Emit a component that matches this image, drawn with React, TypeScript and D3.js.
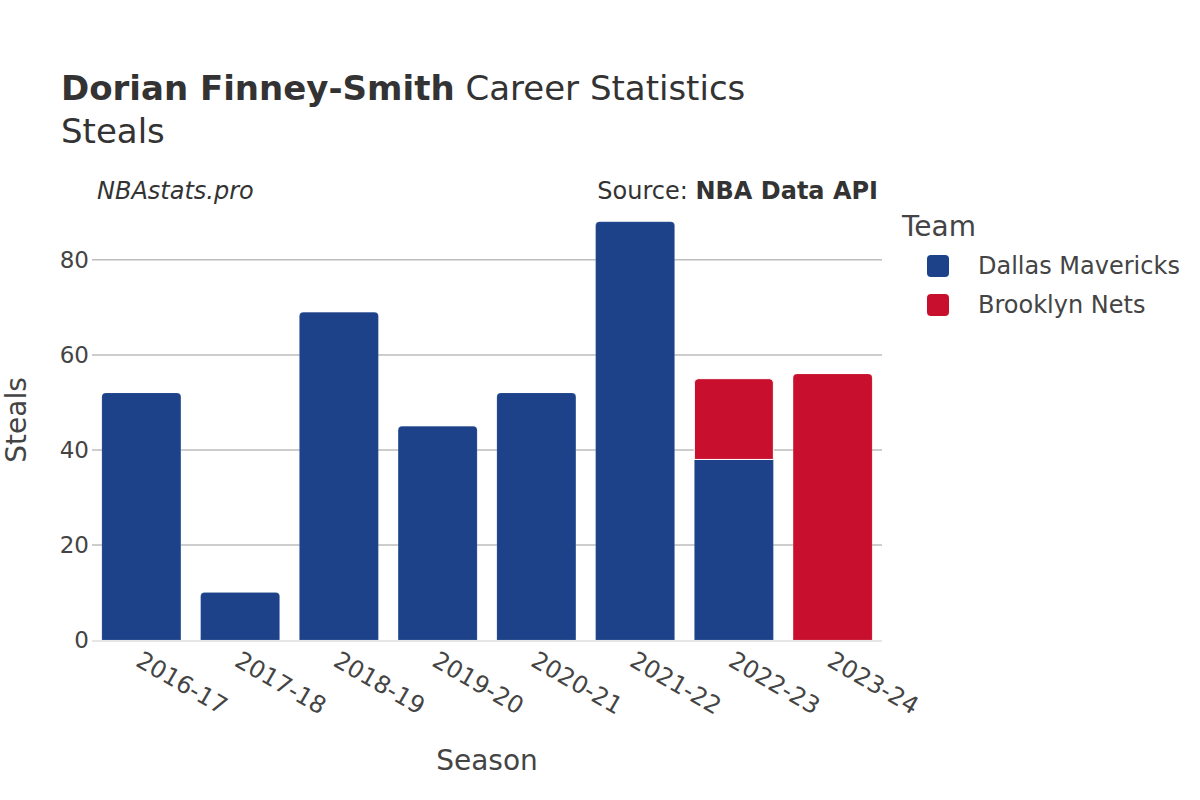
import React from 'react';
import * as d3 from 'd3';

const seasons = ['2016-17', '2017-18', '2018-19', '2019-20', '2020-21', '2021-22', '2022-23', '2023-24'];
const teams = ['Dallas Mavericks', 'Brooklyn Nets'];
const teamColors = ['#1d428a', '#c8102e'];
// steals per season, one array per team
const dalSteals = [52, 10, 69, 45, 52, 88, 38, 0];
const bknSteals = [0, 0, 0, 0, 0, 0, 17, 56];
const yTicks = [0, 20, 40, 60, 80];

const W = 1200;
const H = 800;
const margin = { left: 92, right: 318, top: 200, bottom: 160 };
const FONT = '"DejaVu Sans", sans-serif';

// path for a bar with only the top corners rounded
function barPath(x: number, y: number, w: number, h: number, r: number, round: boolean) {
    if (!round || h < r) return `M${x},${y + h}V${y}H${x + w}V${y + h}Z`;
    return `M${x},${y + h}V${y + r}Q${x},${y} ${x + r},${y}H${x + w - r}Q${x + w},${y} ${x + w},${y + r}V${y + h}Z`;
}

export default function App() {
    const innerRight = W - margin.right;
    const bottom = H - margin.bottom;

    const x = d3.scaleBand<string>()
        .domain(seasons)
        .range([margin.left, innerRight])
        .paddingInner(0.2)
        .paddingOuter(0.1);

    const y = d3.scaleLinear()
        .domain([0, 92.6])
        .range([bottom, margin.top]);

    const series = [dalSteals, bknSteals];
    const stack = seasons.map((s, i) => {
        let base = 0;
        const segs = series.map((vals, t) => {
            const v = vals[i];
            const seg = { team: t, y0: base, y1: base + v };
            base += v;
            return seg;
        }).filter(d => d.y1 > d.y0);
        return { season: s, segs };
    });

    return (
        <svg width={W} height={H} style={{ position: 'absolute', left: 0, top: 0, background: '#fff' }} fontFamily={FONT}>
            <text x={61} y={100} fontSize={34} fill="#333">
                <tspan fontWeight="bold">Dorian Finney-Smith</tspan>
                <tspan> Career Statistics</tspan>
            </text>
            <text x={61} y={143} fontSize={34} fill="#333">Steals</text>
            <text x={97} y={199} fontSize={24} fontStyle="italic" fill="#333">NBAstats.pro</text>
            <text x={878} y={199} fontSize={24} textAnchor="end" fill="#333">
                <tspan>Source: </tspan>
                <tspan fontWeight="bold">NBA Data API</tspan>
            </text>

            {/* grid */}
            {yTicks.map(t => (
                <g key={t}>
                    {t > 0 && (
                        <line x1={margin.left} x2={innerRight} y1={y(t)} y2={y(t)} stroke="#bdbdbd" strokeWidth={1.5} />
                    )}
                    <text x={89} y={y(t)} dy="0.36em" fontSize={23} textAnchor="end" fill="#444">{t}</text>
                </g>
            ))}

            {/* bars */}
            {stack.map(d => d.segs.map((s, k) => {
                const x0 = x(d.season) as number;
                const top = y(s.y1);
                const h = y(s.y0) - y(s.y1);
                const isTop = k === d.segs.length - 1;
                return (
                    <path key={d.season + s.team}
                        d={barPath(x0, top, x.bandwidth(), h, 4, isTop)}
                        fill={teamColors[s.team]}
                        stroke="#fff" strokeWidth={k > 0 ? 1 : 0.3} strokeOpacity={k > 0 ? 1 : 0.4} />
                );
            }))}

            <line x1={margin.left} x2={innerRight} y1={bottom + 1} y2={bottom + 1} stroke="#e6e6e6" strokeWidth={2} />

            {/* x tick labels */}
            {seasons.map(s => {
                const cx = (x(s) as number) + x.bandwidth() / 2;
                return (
                    <text key={s} transform={`translate(${cx - 7},${bottom + 25}) rotate(30)`} fontSize={24} fill="#444">
                        {s}
                    </text>
                );
            })}

            <text x={(margin.left + innerRight) / 2} y={770} fontSize={28} textAnchor="middle" fill="#444">Season</text>
            <text transform={`translate(26,420) rotate(-90)`} fontSize={28} textAnchor="middle" fill="#444">Steals</text>

            {/* legend */}
            <text x={902} y={236} fontSize={28} fill="#444">Team</text>
            {teams.map((t, i) => (
                <g key={t} transform={`translate(0,${i * 39})`}>
                    <rect x={927} y={255} width={22} height={22} rx={4} fill={teamColors[i]} />
                    <text x={978} y={274} fontSize={24} fill="#444">{t}</text>
                </g>
            ))}
        </svg>
    );
}
